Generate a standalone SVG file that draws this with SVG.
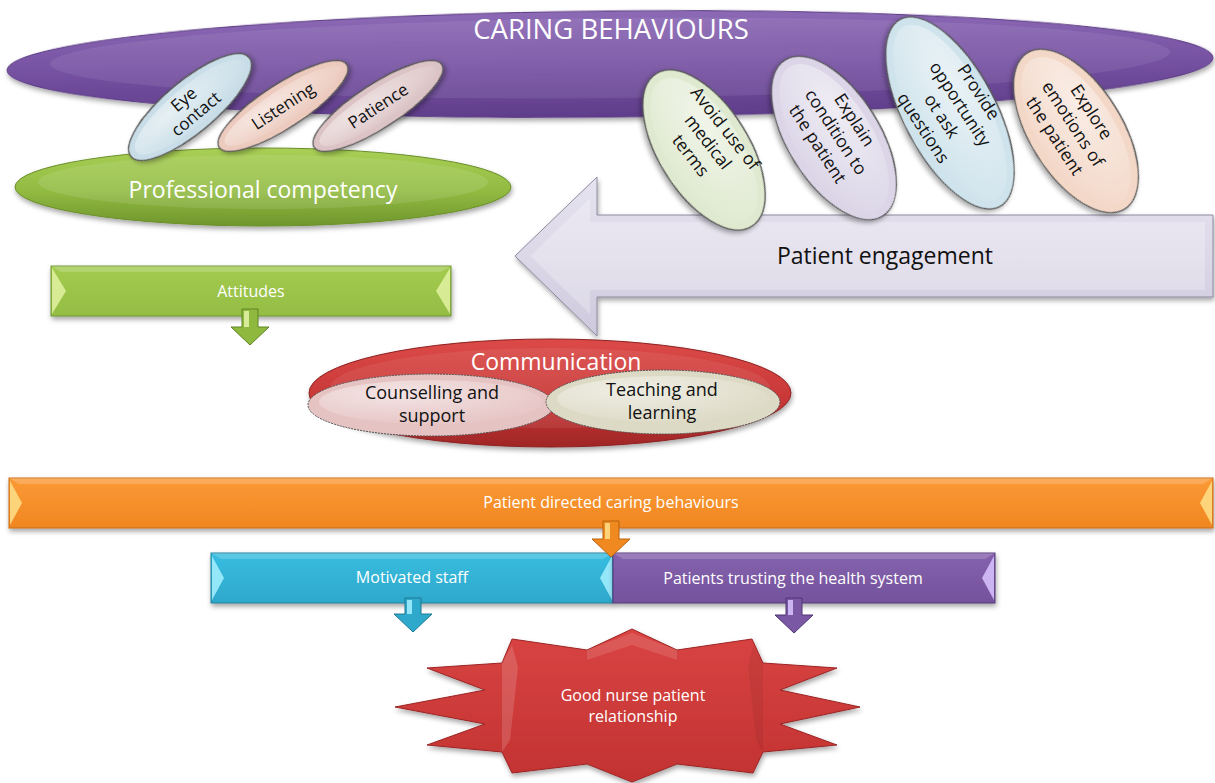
<svg xmlns="http://www.w3.org/2000/svg" width="1215" height="783" viewBox="0 0 1215 783">
<defs>
  <filter id="sh" x="-10%" y="-20%" width="120%" height="150%">
    <feDropShadow dx="1" dy="3" stdDeviation="2.5" flood-color="#000" flood-opacity="0.35"/>
  </filter>
  <linearGradient id="gPurple" x1="0" y1="0" x2="0" y2="1">
    <stop offset="0" stop-color="#8c6ab5"/><stop offset="0.5" stop-color="#7752a3"/><stop offset="1" stop-color="#5f3d8a"/>
  </linearGradient>
  <linearGradient id="gGreen" x1="0" y1="0" x2="0" y2="1">
    <stop offset="0" stop-color="#a9cf55"/><stop offset="0.55" stop-color="#92bb42"/><stop offset="1" stop-color="#6f962c"/>
  </linearGradient>
  <linearGradient id="gRed" x1="0" y1="0" x2="0" y2="1">
    <stop offset="0" stop-color="#dc4a48"/><stop offset="0.6" stop-color="#c73636"/><stop offset="1" stop-color="#9f2626"/>
  </linearGradient>
  <linearGradient id="gOrange" x1="0" y1="0" x2="0" y2="1">
    <stop offset="0" stop-color="#fb9a36"/><stop offset="1" stop-color="#f08620"/>
  </linearGradient>
  <linearGradient id="gBlue" x1="0" y1="0" x2="0" y2="1">
    <stop offset="0" stop-color="#38bde0"/><stop offset="1" stop-color="#2ea8cb"/>
  </linearGradient>
  <linearGradient id="gViolet" x1="0" y1="0" x2="0" y2="1">
    <stop offset="0" stop-color="#8562ad"/><stop offset="1" stop-color="#74529c"/>
  </linearGradient>
  <linearGradient id="gAtt" x1="0" y1="0" x2="0" y2="1">
    <stop offset="0" stop-color="#a3cb4f"/><stop offset="1" stop-color="#94bd44"/>
  </linearGradient>
  <linearGradient id="gLav" x1="0" y1="0" x2="0" y2="1">
    <stop offset="0" stop-color="#e6e3ef"/><stop offset="0.5" stop-color="#dcd8e8"/><stop offset="1" stop-color="#cdc8dc"/>
  </linearGradient>
  <linearGradient id="gStar" x1="0" y1="0" x2="0" y2="1">
    <stop offset="0" stop-color="#d94442"/><stop offset="1" stop-color="#c23232"/>
  </linearGradient>
  <radialGradient id="gloss" cx="0.35" cy="0.3" r="0.8">
    <stop offset="0" stop-color="#fff" stop-opacity="0.55"/><stop offset="1" stop-color="#fff" stop-opacity="0"/>
  </radialGradient>
  <style>
    .t { font-family: "Open Sans", "Liberation Sans", sans-serif; text-anchor: middle; }
    .w { fill: #ffffff; }
    .k { fill: #111111; }
    .pill { stroke: #555555; stroke-width: 1.3; }
    .bevel { fill: #ffffff; opacity: 0.18; }
    .bar { font-size: 16px; }
  </style>
</defs>

<!-- CARING BEHAVIOURS -->
<g id="caring-behaviours">
  <ellipse cx="610" cy="64" rx="603" ry="53" transform="rotate(-0.6 610 64)" fill="url(#gPurple)" stroke="#5a3a82" stroke-width="1" filter="url(#sh)"/>
  <ellipse cx="610" cy="58" rx="560" ry="40" transform="rotate(-0.6 610 64)" fill="#ffffff" opacity="0.08"/>
  <text class="t w" x="611" y="39" font-size="27.5">CARING BEHAVIOURS</text>
</g>

<!-- Professional competency -->
<g id="professional-competency">
  <ellipse cx="263" cy="187" rx="248" ry="39" fill="url(#gGreen)" stroke="#6b8f2a" stroke-width="1" filter="url(#sh)"/>
  <ellipse cx="263" cy="182" rx="225" ry="27" fill="#ffffff" opacity="0.1"/>
  <text class="t w" x="263" y="198" font-size="23">Professional competency</text>
</g>

<!-- left small ellipses -->
<g id="eye-contact">
  <ellipse cx="190" cy="107" rx="77" ry="26" transform="rotate(-40 190 107)" fill="#c8dde7" class="pill" filter="url(#sh)"/>
  <ellipse cx="190" cy="107" rx="70" ry="20" transform="rotate(-40 190 107)" fill="url(#gloss)"/>
  <text class="t k" font-size="17" transform="translate(190 107) rotate(-40)"><tspan x="0" y="-4">Eye</tspan><tspan x="0" y="15">contact</tspan></text>
</g>
<g id="listening">
  <ellipse cx="283" cy="106" rx="76" ry="22" transform="rotate(-33 283 106)" fill="#eccabd" class="pill" filter="url(#sh)"/>
  <ellipse cx="283" cy="106" rx="69" ry="16" transform="rotate(-33 283 106)" fill="url(#gloss)"/>
  <text class="t k" font-size="17" transform="translate(283 106) rotate(-33)" x="0" y="6">Listening</text>
</g>
<g id="patience">
  <ellipse cx="378" cy="106" rx="76" ry="22" transform="rotate(-33 378 106)" fill="#dcc3c5" class="pill" filter="url(#sh)"/>
  <ellipse cx="378" cy="106" rx="69" ry="16" transform="rotate(-33 378 106)" fill="url(#gloss)"/>
  <text class="t k" font-size="17" transform="translate(378 106) rotate(-33)" x="0" y="6">Patience</text>
</g>

<!-- Patient engagement arrow -->
<g id="patient-engagement">
  <polygon points="515,256 597,177 597,215 1213,215 1213,297 597,297 597,336" fill="url(#gLav)" stroke="#8e8aa0" stroke-width="1" filter="url(#sh)"/>
  <polygon points="530,256 590,198 590,222 1205,222 1205,290 590,290 590,314" fill="#ffffff" opacity="0.25"/>
  <text class="t k" x="885" y="264" font-size="23">Patient engagement</text>
</g>

<!-- right tilted ellipses -->
<g id="avoid-medical-terms">
  <ellipse cx="704" cy="150" rx="90" ry="45" transform="rotate(58 704 150)" fill="#dfe9cf" class="pill" filter="url(#sh)"/>
  <ellipse cx="704" cy="150" rx="82" ry="37" transform="rotate(58 704 150)" fill="url(#gloss)"/>
  <text class="t k" font-size="17.5" transform="translate(708 142) rotate(52)"><tspan x="0" y="-16">Avoid use of</tspan><tspan x="0" y="6">medical</tspan><tspan x="0" y="28">terms</tspan></text>
</g>
<g id="explain-condition">
  <ellipse cx="834" cy="138" rx="92" ry="46" transform="rotate(58 834 138)" fill="#dbd5e7" class="pill" filter="url(#sh)"/>
  <ellipse cx="834" cy="138" rx="84" ry="38" transform="rotate(58 834 138)" fill="url(#gloss)"/>
  <text class="t k" font-size="17.5" transform="translate(836 132) rotate(57)"><tspan x="0" y="-16">Explain</tspan><tspan x="0" y="6">condition to</tspan><tspan x="0" y="28">the patient</tspan></text>
</g>
<g id="provide-opportunity">
  <ellipse cx="950" cy="113" rx="106" ry="46" transform="rotate(62 950 113)" fill="#cfe3ec" class="pill" filter="url(#sh)"/>
  <ellipse cx="950" cy="113" rx="98" ry="38" transform="rotate(62 950 113)" fill="url(#gloss)"/>
  <text class="t k" font-size="17.5" transform="translate(951 110) rotate(57)"><tspan x="0" y="-27">Provide</tspan><tspan x="0" y="-5">opportunity</tspan><tspan x="0" y="17">ot ask</tspan><tspan x="0" y="39">questions</tspan></text>
</g>
<g id="explore-emotions">
  <ellipse cx="1076" cy="131" rx="92" ry="46" transform="rotate(58 1076 131)" fill="#f3d7c7" class="pill" filter="url(#sh)"/>
  <ellipse cx="1076" cy="131" rx="84" ry="38" transform="rotate(58 1076 131)" fill="url(#gloss)"/>
  <text class="t k" font-size="17.5" transform="translate(1073 124) rotate(57)"><tspan x="0" y="-16">Explore</tspan><tspan x="0" y="6">emotions of</tspan><tspan x="0" y="28">the patient</tspan></text>
</g>

<!-- Attitudes -->
<g id="attitudes">
  <rect x="51" y="266" width="400" height="50" fill="url(#gAtt)" stroke="#6f9530" stroke-width="1" filter="url(#sh)"/>
  <polygon points="51,266 451,266 441,272 61,272" class="bevel"/>
  <polygon points="52,268 66,291 52,314" fill="#e6f5a8" opacity="0.8"/>
  <polygon points="450,268 436,291 450,314" fill="#e6f5a8" opacity="0.8"/>
  <text class="t w bar" x="251" y="297">Attitudes</text>
</g>

<!-- Communication -->
<g id="communication">
  <ellipse cx="550" cy="393" rx="241" ry="54" fill="url(#gRed)" stroke="#8d2222" stroke-width="1" filter="url(#sh)"/>
  <ellipse cx="550" cy="388" rx="220" ry="40" fill="#ffffff" opacity="0.07"/>
  <text class="t w" x="556" y="370" font-size="23">Communication</text>
</g>
<g id="counselling-support">
  <ellipse cx="431" cy="405" rx="123" ry="31" fill="#e6c3c3" stroke="#555" stroke-width="1" stroke-dasharray="2 1"/>
  <ellipse cx="431" cy="402" rx="112" ry="22" fill="url(#gloss)"/>
  <text class="t k" font-size="18"><tspan x="432" y="399">Counselling and</tspan><tspan x="432" y="422">support</tspan></text>
</g>
<g id="teaching-learning">
  <ellipse cx="663" cy="402" rx="117" ry="32" fill="#dcd9c4" stroke="#555" stroke-width="1" stroke-dasharray="2 1"/>
  <ellipse cx="663" cy="399" rx="106" ry="23" fill="url(#gloss)"/>
  <text class="t k" font-size="18"><tspan x="662" y="396">Teaching and</tspan><tspan x="662" y="419">learning</tspan></text>
</g>

<!-- Patient directed caring behaviours -->
<g id="patient-directed">
  <rect x="9" y="478" width="1204" height="50" fill="url(#gOrange)" stroke="#c96d15" stroke-width="1" filter="url(#sh)"/>
  <polygon points="9,478 1213,478 1203,484 19,484" class="bevel"/>
  <polygon points="10,481 22,503 10,525" fill="#ffe08a" opacity="0.85"/>
  <polygon points="1212,481 1200,503 1212,525" fill="#ffe08a" opacity="0.85"/>
  <text class="t w bar" x="611" y="508">Patient directed caring behaviours</text>
</g>

<!-- Motivated staff -->
<g id="motivated-staff">
  <rect x="211" y="553" width="402" height="50" fill="url(#gBlue)" stroke="#22809c" stroke-width="1" filter="url(#sh)"/>
  <polygon points="211,553 613,553 603,559 221,559" class="bevel"/>
  <polygon points="212,556 224,578 212,600" fill="#a6f0ff" opacity="0.85"/>
  <polygon points="612,556 600,578 612,600" fill="#a6f0ff" opacity="0.85"/>
  <text class="t w bar" x="412" y="583">Motivated staff</text>
</g>

<!-- Patients trusting the health system -->
<g id="patients-trusting">
  <rect x="613" y="553" width="382" height="50" fill="url(#gViolet)" stroke="#553a78" stroke-width="1" filter="url(#sh)"/>
  <polygon points="613,553 995,553 985,559 623,559" class="bevel"/>
  <polygon points="994,556 982,578 994,600" fill="#d9c4ff" opacity="0.85"/>
  <text class="t w bar" x="793" y="584">Patients trusting the health system</text>
</g>

<!-- Good nurse patient relationship -->
<g id="good-relationship">
  <polygon points="632,629 677,650 752,639 763,663 837,668 780,690 860,707 780,724 837,745 763,752 753,773 677,764 632,782 587,764 512,773 502,752 427,745 485,724 395,707 485,690 427,668 502,663 512,639 587,650" fill="url(#gStar)" stroke="#9c2424" stroke-width="1" filter="url(#sh)"/>
  <polygon points="587,650 632,633 677,650 677,660 632,645 587,660" fill="#ffffff" opacity="0.12"/>
  <polygon points="502,663 512,645 518,667 510,740 502,752" fill="#ffffff" opacity="0.15"/>
  <polygon points="763,663 753,645 748,667 756,740 763,752" fill="#000000" opacity="0.06"/>
  <text class="t w" font-size="16"><tspan x="633" y="701">Good nurse patient</tspan><tspan x="633" y="722">relationship</tspan></text>
</g>

<!-- connectors -->
<g id="connectors">
  <polygon points="242,309 258,309 258,327 269,327 250,345 231,327 242,327" fill="#8fb83f" stroke="#5f8424" stroke-width="1"/>
  <rect x="244" y="311" width="5" height="16" fill="#e8f7b0" opacity="0.8"/>
  <polygon points="603,521 619,521 619,539 630,539 611,557 592,539 603,539" fill="#f0891f" stroke="#b8620f" stroke-width="1"/>
  <rect x="605" y="523" width="5" height="16" fill="#ffe08a" opacity="0.85"/>
  <polygon points="405,598 421,598 421,614 432,614 413,632 394,614 405,614" fill="#2ea9cc" stroke="#1c7893" stroke-width="1"/>
  <rect x="407" y="600" width="5" height="14" fill="#a6f0ff" opacity="0.85"/>
  <polygon points="786,598 802,598 802,615 813,615 794,633 775,615 786,615" fill="#7a58a3" stroke="#4f3573" stroke-width="1"/>
  <rect x="788" y="600" width="5" height="15" fill="#d9c4ff" opacity="0.85"/>
</g>
</svg>
